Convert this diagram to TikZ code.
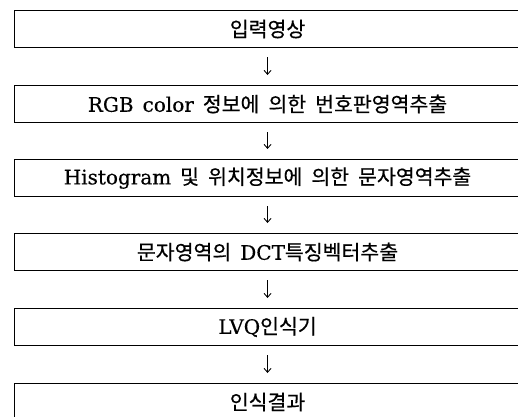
\documentclass[tikz,border=0pt]{standalone}
\usepackage{fontspec}
\setmainfont[FakeBold=0.4]{DejaVu Serif}
\newfontfamily\krfont[FakeBold=0.5]{Noto Sans CJK KR}
\usetikzlibrary{arrows.meta}
\newcommand\hg[1]{{\krfont\fontsize{20.5}{23}\selectfont #1}}
\newcommand\boxfont{\fontsize{20}{23}\selectfont\spaceskip=9pt plus 1pt\relax}
\tikzset{
  x=1pt, y=1pt,
  box/.style={draw=black, line width=1.1pt, minimum width=506pt, minimum height=37pt,
    anchor=north west, inner sep=0pt, font=\boxfont},
  arr/.style={line width=0.9pt, -{Straight Barb[length=4pt,width=7pt]}}
}
\begin{document}
\begin{tikzpicture}
\useasboundingbox (0,0) rectangle (518,416);
\clip (0,0) rectangle (518,416);
\fill[white] (0,0) rectangle (518,416);
\node[box] (b1) at (14,406)   {\hg{입력영상}};
\node[box] (b2) at (14,331)   {RGB color \hg{정보에 의한 번호판영역추출}};
\node[box] (b3) at (14,257)   {Histogram \hg{및 위치정보에 의한 문자영역추출}};
\node[box] (b4) at (14,183)   {\hg{문자영역의} DCT\hg{특징벡터추출}};
\node[box] (b5) at (14,108)   {LVQ\hg{인식기}};
\node[box] (b6) at (14,33)    {\hg{인식결과}};
\foreach \a/\b in {b1/b2,b2/b3,b3/b4,b4/b5,b5/b6}
  \draw[arr] ([yshift=-9pt]\a.south) -- ([yshift=10pt]\b.north);
\end{tikzpicture}
\end{document}
